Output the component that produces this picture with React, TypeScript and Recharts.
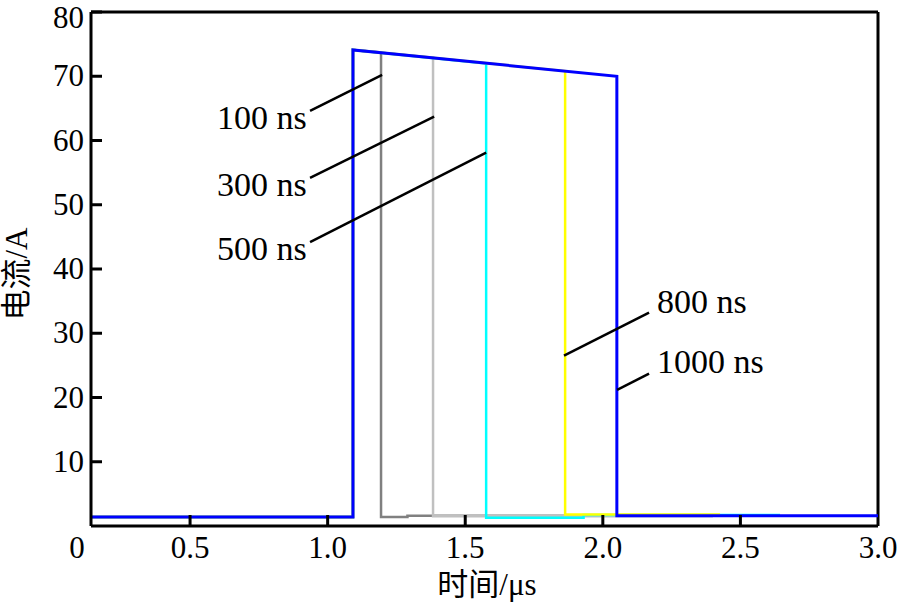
import React from 'react';
import { LineChart, Line, XAxis, YAxis, ReferenceLine, ReferenceDot } from 'recharts';

// ---- axis ticks ----
const X_MIN = 0.14;
const X_MAX = 3.0;
const xTickValues = [0.14, 0.5, 1.0, 1.5, 2.0, 2.5, 3.0];
const xTickLabels = ['0', '0.5', '1.0', '1.5', '2.0', '2.5', '3.0'];
const yTickValues = [10, 20, 30, 40, 50, 60, 70, 80];
const yTickLabels = ['10', '20', '30', '40', '50', '60', '70', '80'];

// ---- series (time in µs, current in A) ----
const t100 = [0.14, 1.092, 1.092, 1.194, 1.194, 1.29, 1.29, 2.524];
const i100 = [1.4, 1.4, 74.1, 73.7, 1.4, 1.4, 1.6, 1.6];

const t300 = [0.14, 1.092, 1.092, 1.383, 1.383, 2.4];
const i300 = [1.4, 1.4, 74.1, 72.9, 1.5, 1.5];

const t500 = [0.14, 1.092, 1.092, 1.576, 1.576, 1.93, 1.93, 2.644];
const i500 = [1.4, 1.4, 74.1, 72.0, 1.3, 1.3, 1.7, 1.7];

const t800 = [0.14, 1.092, 1.092, 1.863, 1.863, 2.426];
const i800 = [1.4, 1.4, 74.1, 70.8, 1.8, 1.8];

const t1000 = [0.14, 1.092, 1.092, 2.051, 2.051, 3.0];
const i1000 = [1.4, 1.4, 74.1, 70.0, 1.6, 1.6];

// ---- annotations ----
const annLabels = ['100 ns', '300 ns', '500 ns', '800 ns', '1000 ns'];
const annTextX = [0.598, 0.598, 0.598, 2.197, 2.197];
const annTextY = [61.8, 51.4, 41.4, 33.2, 23.8];
const leadX1 = [0.936, 0.936, 0.936, 1.859, 2.052];
const leadY1 = [64.6, 54.2, 44.2, 26.5, 21.2];
const leadX2 = [1.198, 1.387, 1.576, 2.168, 2.168];
const leadY2 = [70.2, 63.7, 58.1, 33.2, 23.7];

const toRows = (t: number[], v: number[]) => t.map((x, k) => ({ t: x, i: v[k] }));

const series = [
  { name: '100 ns', data: toRows(t100, i100), color: '#808080', w: 2.5 },
  { name: '300 ns', data: toRows(t300, i300), color: '#C0C0C0', w: 2.5 },
  { name: '500 ns', data: toRows(t500, i500), color: '#00FFFF', w: 2.5 },
  { name: '800 ns', data: toRows(t800, i800), color: '#FFFF00', w: 2.5 },
  { name: '1000 ns', data: toRows(t1000, i1000), color: '#0000FF', w: 3 },
];

const SERIF = '"Liberation Serif", "Times New Roman", serif';
const TITLE_FONT = '"Liberation Serif", "Noto Sans CJK SC", serif';

const XTick = (props: any) => {
  const { x, y, payload, index } = props;
  const idx = xTickValues.indexOf(payload.value);
  const label = idx >= 0 ? xTickLabels[idx] : String(payload.value);
  const isFirst = idx === 0;
  const isLast = idx === xTickValues.length - 1;
  return (
    <g key={index}>
      {!isFirst && !isLast && (
        <line x1={x} x2={x} y1={y} y2={y - 11} stroke="#000" strokeWidth={3} />
      )}
      <text x={isFirst ? x - 14 : x} y={y + 32} textAnchor="middle" fontFamily={SERIF} fontSize={31} fill="#000">
        {label}
      </text>
    </g>
  );
};

const YTick = (props: any) => {
  const { x, y, payload, index } = props;
  const idx = yTickValues.indexOf(payload.value);
  const label = idx >= 0 ? yTickLabels[idx] : String(payload.value);
  const isTop = idx === yTickValues.length - 1;
  return (
    <g key={index}>
      <line x1={x} x2={x + 11} y1={y} y2={y} stroke="#000" strokeWidth={3} />
      <text x={x - 7} y={y + (isTop ? 16 : 10)} textAnchor="end" fontFamily={SERIF} fontSize={31} fill="#000">
        {label}
      </text>
    </g>
  );
};

const YTitle = (props: any) => {
  const { viewBox } = props;
  const cx = 16;
  const cy = viewBox.y + viewBox.height / 2 + 5;
  return (
    <text
      x={cx}
      y={cy}
      transform={`rotate(-90 ${cx} ${cy})`}
      textAnchor="middle"
      dominantBaseline="central"
      fontFamily={TITLE_FONT}
      fontSize={31}
      fill="#000"
    >
      电流/A
    </text>
  );
};

const XTitle = (props: any) => {
  const { viewBox } = props;
  const cx = 487;
  const cy = viewBox.y + viewBox.height - 14;
  return (
    <text x={cx} y={cy} textAnchor="middle" fontFamily={TITLE_FONT} fontSize={31} fill="#000">
      时间/μs
    </text>
  );
};

const makeTextShape = (label: string) => (p: any) => (
  <text x={p.cx} y={p.cy} textAnchor="start" fontFamily={SERIF} fontSize={34} fill="#000">
    {label}
  </text>
);

export default function App() {
  return (
    <div style={{ position: 'absolute', left: 0, top: 0, width: 902, height: 609, background: '#fff' }}>
      <LineChart width={902} height={609} margin={{ top: 12, right: 24, left: 0, bottom: 0 }}>
        <XAxis
          type="number"
          dataKey="t"
          domain={[X_MIN, X_MAX]}
          allowDataOverflow
          ticks={xTickValues}
          interval={0}
          height={83}
          tickSize={0}
          tickMargin={0}
          tickLine={false}
          axisLine={{ stroke: '#000', strokeWidth: 3 }}
          tick={<XTick />}
          label={{ content: <XTitle /> }}
        />
        <YAxis
          type="number"
          dataKey="i"
          domain={[0, 80]}
          allowDataOverflow
          ticks={yTickValues}
          interval={0}
          width={91}
          tickSize={0}
          tickMargin={0}
          tickLine={false}
          axisLine={{ stroke: '#000', strokeWidth: 3 }}
          tick={<YTick />}
          label={{ content: <YTitle /> }}
        />
        <ReferenceLine y={80} stroke="#000" strokeWidth={3} ifOverflow="visible" />
        <ReferenceLine x={X_MAX} stroke="#000" strokeWidth={3} ifOverflow="visible" />
        {series.map((s) => (
          <Line
            key={s.name}
            data={s.data}
            dataKey="i"
            type="linear"
            stroke={s.color}
            strokeWidth={s.w}
            dot={false}
            activeDot={false}
            isAnimationActive={false}
          />
        ))}
        {annLabels.map((lab, k) => (
          <ReferenceLine
            key={'lead' + k}
            segment={[
              { x: leadX1[k], y: leadY1[k] },
              { x: leadX2[k], y: leadY2[k] },
            ]}
            stroke="#000"
            strokeWidth={2.5}
            ifOverflow="visible"
          />
        ))}
        {annLabels.map((lab, k) => (
          <ReferenceDot
            key={'lab' + k}
            x={annTextX[k]}
            y={annTextY[k]}
            r={0}
            ifOverflow="visible"
            shape={makeTextShape(lab)}
          />
        ))}
      </LineChart>
    </div>
  );
}
